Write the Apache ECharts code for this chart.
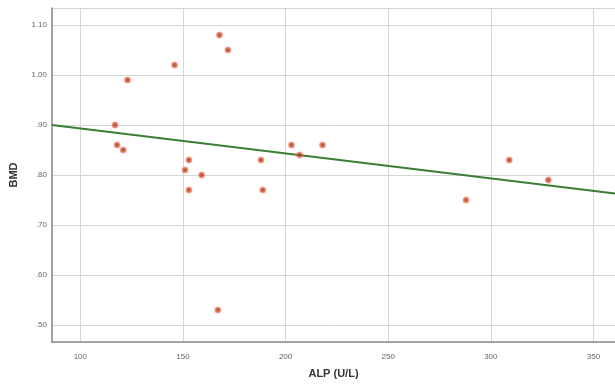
<!DOCTYPE html>
<html>
<head>
<meta charset="utf-8">
<script src="https://cdn.jsdelivr.net/npm/echarts@6/dist/echarts.min.js"></script>
<style>
html,body{margin:0;padding:0;background:#fff;}
#c{width:615px;height:385px;}
</style>
</head>
<body>
<div id="c"></div>
<script>
// ALP (U/L) values
var alp = [167.8, 171.9, 145.9, 123.0, 116.9, 117.9, 120.9, 152.9, 151.0, 159.1, 152.9, 188.0, 188.9, 202.9, 206.8, 218.0, 167.0, 287.9, 309.0, 328.0];
// BMD values
var bmd = [1.08, 1.05, 1.02, 0.99, 0.90, 0.86, 0.85, 0.83, 0.81, 0.80, 0.77, 0.83, 0.77, 0.86, 0.84, 0.86, 0.53, 0.75, 0.83, 0.79];
// fitted line endpoints
var fitX = [86.2, 360.5];
var fitY = [0.900, 0.763];
// axis ranges
var xRange = [86.2, 360.5];
var yRange = [0.466, 1.134];

var pts = alp.map(function (x, i) { return [x, bmd[i]]; });
var fit = fitX.map(function (x, i) { return [x, fitY[i]]; });

var chart = echarts.init(document.getElementById('c'), null, {renderer: 'canvas'});
chart.setOption({
  animation: false,
  backgroundColor: '#ffffff',
  grid: {left: 52, right: 0, top: 8, bottom: 43, containLabel: false},
  xAxis: {
    type: 'value', min: xRange[0], max: xRange[1], splitNumber: 6,
    name: 'ALP (U/L)', nameLocation: 'middle', nameGap: 26,
    nameTextStyle: {fontFamily: 'Liberation Sans', fontWeight: 'bold', fontSize: 11, color: '#333'},
    axisLine: {show: true, lineStyle: {color: '#8a8a8a', width: 1.5}},
    axisTick: {show: false},
    axisLabel: {showMinLabel: false, showMaxLabel: false, fontSize: 8, color: '#666', margin: 11, fontFamily: 'Liberation Sans'},
    splitLine: {show: true, lineStyle: {color: '#d6d6d6', width: 1}}
  },
  yAxis: {
    type: 'value', min: yRange[0], max: yRange[1], splitNumber: 7,
    name: 'BMD', nameLocation: 'middle', nameGap: 33,
    nameTextStyle: {fontFamily: 'Liberation Sans', fontWeight: 'bold', fontSize: 11, color: '#333'},
    axisLine: {show: true, lineStyle: {color: '#8a8a8a', width: 1.5}},
    axisTick: {show: false},
    axisLabel: {showMinLabel: false, showMaxLabel: false, fontSize: 8, color: '#666', margin: 5, fontFamily: 'Liberation Sans',
      formatter: function (v) { var s = v.toFixed(2); return v < 1 ? s.replace(/^0/, '') : s; }},
    splitLine: {show: true, lineStyle: {color: '#d6d6d6', width: 1}}
  },
  series: [
    {
      type: 'line', data: fit, symbol: 'none', z: 2,
      lineStyle: {color: '#3a7e36', width: 2.2}
    },
    {
      type: 'scatter', data: pts, symbolSize: 7, z: 3,
      itemStyle: {
        color: {type: 'radial', x: 0.5, y: 0.5, r: 0.5, colorStops: [
          {offset: 0, color: '#6e2c1e'}, {offset: 0.5, color: '#d4452a'}, {offset: 1, color: 'rgba(240,95,55,0.55)'}
        ]}
      }
    }
  ]
});
</script>
</body>
</html>
